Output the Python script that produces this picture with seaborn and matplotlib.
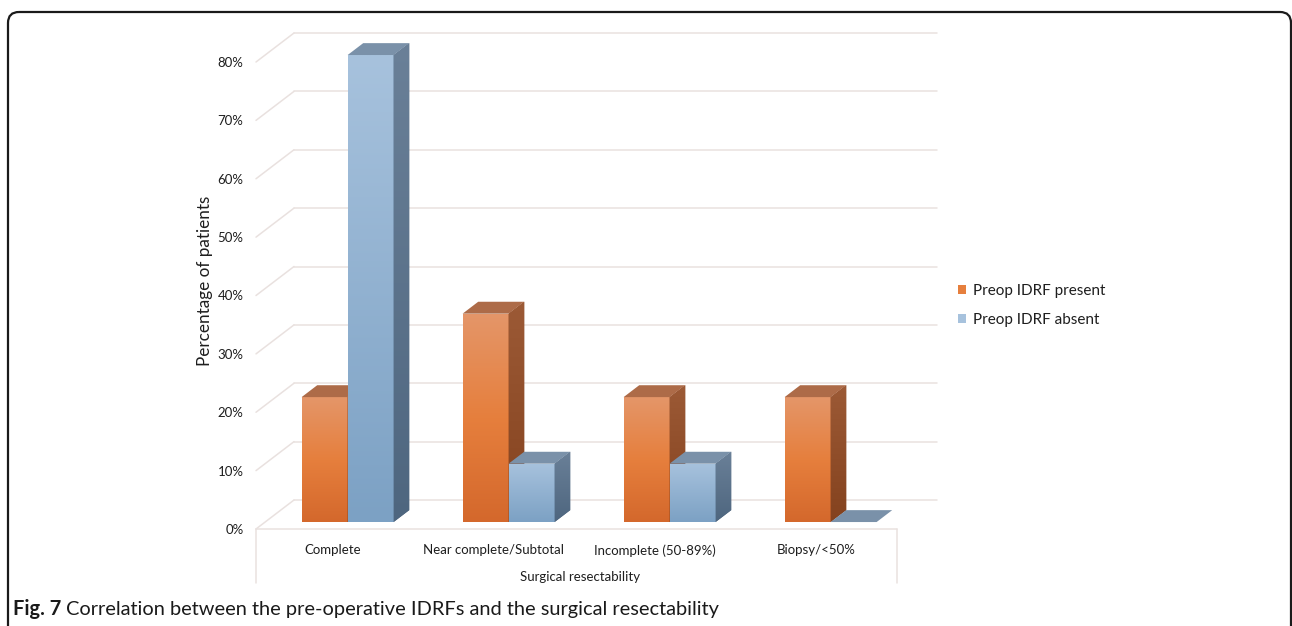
import numpy as np
import pandas as pd
import matplotlib
matplotlib.use("Agg")
import matplotlib.pyplot as plt
import seaborn as sns
from matplotlib.colors import LinearSegmentedColormap
from matplotlib.patches import Polygon, FancyBboxPatch

# ---- data -------------------------------------------------------------
categories = ["Complete", "Near complete/Subtotal", "Incomplete (50-89%)", "Biopsy/<50%"]
series = ["Preop IDRF present", "Preop IDRF absent"]
idrf_present = [21.4, 35.7, 21.4, 21.4]
idrf_absent = [80.0, 10.0, 10.0, 0.0]
y_ticks = [0, 10, 20, 30, 40, 50, 60, 70, 80]
y_tick_labels = [f"{t}%" for t in y_ticks]
x_title = "Surgical resectability"
y_title = "Percentage of patients"
caption_bold = "Fig. 7"
caption_text = "Correlation between the pre-operative IDRFs and the surgical resectability"

df = pd.DataFrame({
    "category": categories * 2,
    "series": [series[0]] * len(categories) + [series[1]] * len(categories),
    "value": idrf_present + idrf_absent,
})

# ---- styling ----------------------------------------------------------
W, H, DPI = 1292, 626, 100
sns.set_theme(style="white")
plt.rcParams["font.family"] = ["Lato", "DejaVu Sans"]
TEXT = "#1e1e1e"
GRID = "#E9E1DF"

ORANGE_FRONT = ["#D4682C", "#E67F3D", "#E49669"]   # bottom -> top
ORANGE_SIDE = ["#84421E", "#9C5A36"]
ORANGE_TOP = "#AD6B48"
BLUE_FRONT = ["#7CA1C4", "#A7C2DD"]
BLUE_SIDE = ["#4E667F", "#6A8098"]
BLUE_TOP = "#7A91A9"
FRONTS = [ORANGE_FRONT, BLUE_FRONT]
SIDES = [ORANGE_SIDE, BLUE_SIDE]
TOPS = [ORANGE_TOP, BLUE_TOP]

# ---- layout of the oblique 3-D box (pixels) ---------------------------
X_LEFT, X_STEP = 258, 161          # front plane: left edge and category pitch
Y_ZERO, PX_PER_PCT = 529, 5.8375   # front plane: 0% baseline and scale
Y_MAX = 85
DEPTH = (38, 29)                   # full box depth: right, up
BAR_D0, BAR_D1 = 0.24, 0.65        # bar depth range as a fraction of box depth
FLOOR_L, FLOOR_R, FLOOR_B = 256, 897, 583
WALL_R = 937

fig = plt.figure(figsize=(W / DPI, H / DPI), dpi=DPI)
fig.patch.set_facecolor("white")

# pixel-space layer: frame, back wall, floor box, caption
bg = fig.add_axes([0, 0, 1, 1], zorder=0)
bg.set_xlim(0, W)
bg.set_ylim(H, 0)
bg.axis("off")


def rect(left_px, zero_px):
    return [left_px / W, (H - zero_px) / H, len(categories) * X_STEP / W,
            Y_MAX * PX_PER_PCT / H]


ax = fig.add_axes(rect(X_LEFT, Y_ZERO), zorder=1)
ax_b = fig.add_axes(rect(X_LEFT + DEPTH[0] * BAR_D0, Y_ZERO - DEPTH[1] * BAR_D0), zorder=2)

sns.barplot(data=df, x="category", y="value", hue="series", order=categories,
            hue_order=series, palette=[ORANGE_FRONT[1], BLUE_FRONT[1]],
            width=92 / X_STEP, saturation=1, linewidth=0, errorbar=None,
            ax=ax_b)

for a in (ax, ax_b):
    a.set_xlim(-0.5, len(categories) - 0.5)
    a.set_ylim(0, Y_MAX)
    a.patch.set_alpha(0)

# ---- 3-D faces for every bar -----------------------------------------
ddx = DEPTH[0] * (BAR_D1 - BAR_D0) / X_STEP
ddy = DEPTH[1] * (BAR_D1 - BAR_D0) / PX_PER_PCT
ramp = np.linspace(0, 1, 256).reshape(-1, 1)


def gradient(axis, clip, colors, extent, z):
    cmap = LinearSegmentedColormap.from_list("face", colors)
    im = axis.imshow(ramp, cmap=cmap, extent=extent, origin="lower",
                     aspect="auto", zorder=z, interpolation="bilinear")
    im.set_clip_path(clip)
    im.set_clip_on(True)


n = len(categories)
for s, container in enumerate(ax_b.containers[:len(series)]):
    z = 2 + s
    for p in container.patches:
        x0, w, h = p.get_x(), p.get_width(), p.get_height()
        x1 = x0 + w
        p.set_zorder(z)
        p.set_clip_on(False)
        if h > 0:
            gradient(ax_b, p, FRONTS[s], [x0, x1, 0, h], z + 0.01)
            side = Polygon([(x1, 0), (x1, h), (x1 + ddx, h + ddy), (x1 + ddx, ddy)],
                           closed=True, facecolor=SIDES[s][0], edgecolor="none",
                           zorder=z + 0.02, clip_on=False)
            ax_b.add_patch(side)
            gradient(ax_b, side, SIDES[s], [x1, x1 + ddx, 0, h + ddy], z + 0.03)
        top = Polygon([(x0, h), (x1, h), (x1 + ddx, h + ddy), (x0 + ddx, h + ddy)],
                      closed=True, facecolor=TOPS[s], edgecolor="none",
                      zorder=z + 0.04, clip_on=False)
        ax_b.add_patch(top)

ax_b.set_xlim(-0.5, n - 0.5)
ax_b.set_ylim(0, Y_MAX)
ax_b.axis("off")

sns.move_legend(ax_b, "upper left", bbox_to_anchor=(958 / W, 1 - 284 / H),
                bbox_transform=fig.transFigure, frameon=False, title=None,
                fontsize=11, handlelength=0.55, handleheight=0.55,
                handletextpad=0.45, labelspacing=1.0, borderpad=0,
                borderaxespad=0)
for t in ax_b.get_legend().get_texts():
    t.set_color(TEXT)

# ---- axes text on the front plane ------------------------------------
for sp in ax.spines.values():
    sp.set_visible(False)
ax.set_yticks(y_ticks, y_tick_labels)
ax.set_xticks([i - 0.035 for i in range(n)], categories)
ax.tick_params(axis="y", length=0, pad=10.5, labelsize=9.5, labelcolor=TEXT)
ax.tick_params(axis="x", length=0, pad=11, labelsize=9.5, labelcolor=TEXT)
ax.set_xlabel(x_title, fontsize=9.5, color=TEXT, labelpad=10)
ax.set_ylabel(y_title, fontsize=12.3, color=TEXT, labelpad=3)

# ---- back wall grid, left wall diagonals, floor box ------------------
to_px = lambda v: H - ax.transData.transform((0, v))[1]
for v in y_ticks:
    yf = to_px(v)
    bg.plot([FLOOR_L + DEPTH[0], WALL_R], [yf - DEPTH[1]] * 2, color=GRID, lw=1.1)
    bg.plot([FLOOR_L, FLOOR_L + DEPTH[0]], [yf, yf - DEPTH[1]], color=GRID, lw=1.1)
y0 = to_px(0)
bg.plot([FLOOR_L, FLOOR_R], [y0, y0], color=GRID, lw=1.1)
bg.plot([FLOOR_L, FLOOR_L], [y0, FLOOR_B], color=GRID, lw=1.1)
bg.plot([FLOOR_R, FLOOR_R], [y0, FLOOR_B], color=GRID, lw=1.1)

# ---- outer frame and caption -----------------------------------------
bg.add_patch(FancyBboxPatch((8, 12), 1283, 700,
                            boxstyle="round,pad=0,rounding_size=11",
                            fill=False, edgecolor="#1a1a1a", lw=1.6, clip_on=False))
cap_kw = dict(fontsize=14.4, va="center", ha="left", color="#1a1a1a")
t1 = bg.text(13, 609, caption_bold, fontweight="bold", **cap_kw)
fig.canvas.draw()
bb = t1.get_window_extent()
bg.text(13 + bb.width + 5, 609, caption_text, **cap_kw)

fig.savefig("out.png", dpi=DPI, facecolor="white")
